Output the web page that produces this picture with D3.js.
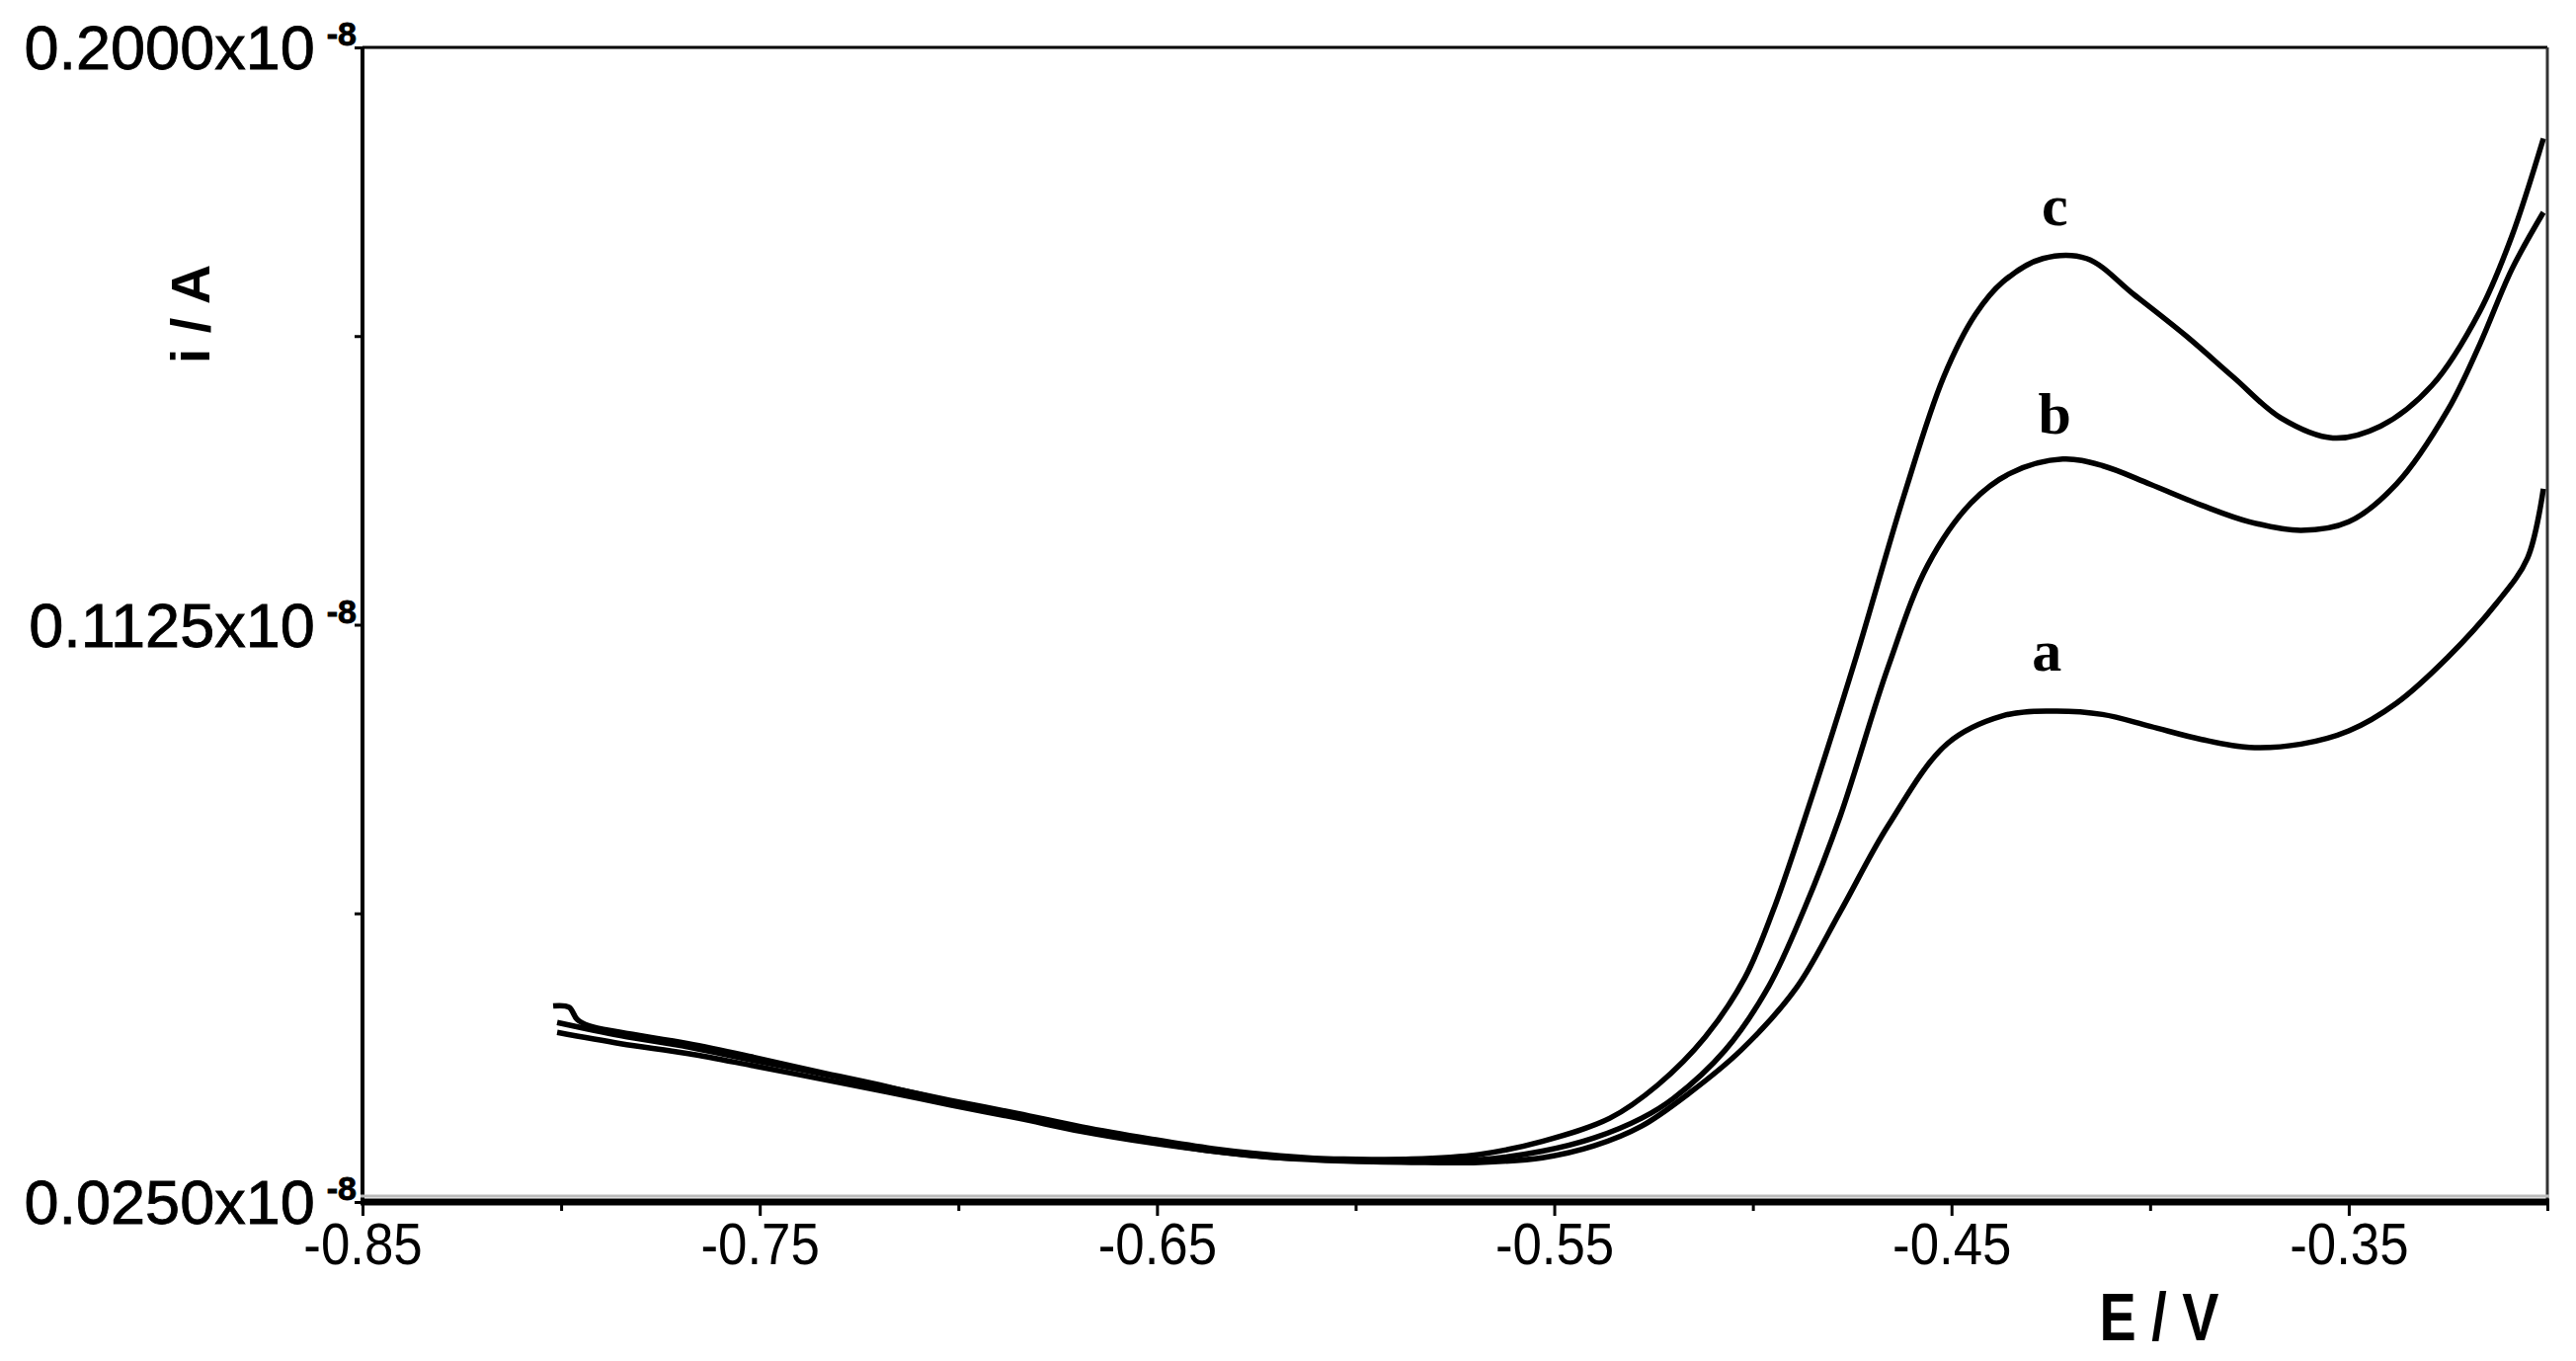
<!DOCTYPE html>
<html>
<head>
<meta charset="utf-8">
<script src="https://cdnjs.cloudflare.com/ajax/libs/d3/7.8.5/d3.min.js"></script>
<style>
  body { margin: 0; background: #fff; }
  svg { display: block; }
</style>
</head>
<body>
<script>
// potential (V) and current (x10^-8 A)
const curveNames = ['a', 'b', 'c']

const potA = [-0.801, -0.785, -0.768, -0.752, -0.735, -0.718, -0.702, -0.685, -0.669, -0.652, -0.636, -0.619, -0.603, -0.586, -0.569, -0.553, -0.540, -0.528, -0.516, -0.503, -0.489, -0.478, -0.466, -0.451, -0.437, -0.425, -0.412, -0.400, -0.387, -0.375, -0.362, -0.350, -0.338, -0.325, -0.313, -0.305, -0.301]
const curA = [0.0507, 0.0490, 0.0475, 0.0457, 0.0437, 0.0417, 0.0397, 0.0377, 0.0357, 0.0340, 0.0327, 0.0317, 0.0312, 0.0310, 0.0310, 0.0317, 0.0335, 0.0365, 0.0415, 0.0480, 0.0575, 0.0690, 0.0820, 0.0945, 0.0987, 0.0994, 0.0989, 0.0971, 0.0951, 0.0939, 0.0944, 0.0964, 0.1006, 0.1076, 0.1156, 0.1226, 0.1331]

const potB = [-0.801, -0.785, -0.768, -0.752, -0.735, -0.718, -0.702, -0.685, -0.669, -0.652, -0.636, -0.619, -0.603, -0.586, -0.569, -0.553, -0.540, -0.528, -0.520, -0.507, -0.496, -0.487, -0.478, -0.466, -0.456, -0.445, -0.435, -0.422, -0.412, -0.400, -0.387, -0.375, -0.362, -0.350, -0.338, -0.325, -0.317, -0.309, -0.301]
const curB = [0.0522, 0.0502, 0.0485, 0.0465, 0.0445, 0.0424, 0.0404, 0.0384, 0.0364, 0.0346, 0.0331, 0.0320, 0.0314, 0.0312, 0.0314, 0.0327, 0.0347, 0.0377, 0.0407, 0.0480, 0.0577, 0.0695, 0.0835, 0.1060, 0.1215, 0.1310, 0.1355, 0.1376, 0.1366, 0.1338, 0.1306, 0.1281, 0.1268, 0.1281, 0.1338, 0.1451, 0.1550, 0.1663, 0.1750]

const potC = [-0.802, -0.798, -0.796, -0.793, -0.785, -0.768, -0.752, -0.735, -0.718, -0.702, -0.685, -0.669, -0.652, -0.636, -0.619, -0.603, -0.586, -0.569, -0.553, -0.536, -0.524, -0.512, -0.502, -0.495, -0.487, -0.474, -0.462, -0.452, -0.444, -0.437, -0.427, -0.416, -0.404, -0.391, -0.379, -0.367, -0.354, -0.342, -0.329, -0.317, -0.309, -0.301]
const curC = [0.0547, 0.0545, 0.0527, 0.0517, 0.0507, 0.0490, 0.0470, 0.0447, 0.0425, 0.0402, 0.0380, 0.0360, 0.0342, 0.0327, 0.0317, 0.0315, 0.0315, 0.0322, 0.0342, 0.0377, 0.0427, 0.0500, 0.0590, 0.0690, 0.0830, 0.1076, 0.1320, 0.1500, 0.1595, 0.1645, 0.1680, 0.1680, 0.1625, 0.1563, 0.1500, 0.1438, 0.1408, 0.1426, 0.1488, 0.1600, 0.1713, 0.1862]

// where the a/b/c tags sit (E, i at baseline)
const labelPot = [-0.426, -0.424, -0.424]
const labelCur = [0.1055, 0.1415, 0.1730]

const xMajor = [-0.85, -0.75, -0.65, -0.55, -0.45, -0.35]
const xMinor = [-0.80, -0.70, -0.60, -0.50, -0.40, -0.30]
const yMajor = [0.0250, 0.1125, 0.2000]
const yMinor = [0.06875, 0.15625]

const fullWidth = 2608
const fullHeight = 1378
const margin = { top: 48, right: 29, bottom: 161, left: 367 }
const width = fullWidth - margin.left - margin.right
const height = fullHeight - margin.top - margin.bottom

const svg = d3.select('body')
  .append('svg')
  .attr('width', fullWidth)
  .attr('height', fullHeight)

const g = svg.append('g')
  .attr('transform', `translate(${margin.left},${margin.top})`)

let x_scale = d3.scaleLinear()
  .domain([-0.85, -0.30])
  .range([0, width])

let y_scale = d3.scaleLinear()
  .domain([0.025, 0.200])
  .range([height, 0])

// x axis: major + minor ticks, condensed labels with a plain hyphen
let x_axis = d3.axisBottom(x_scale)
  .tickValues(xMajor)
  .tickSize(14)
  .tickSizeOuter(0)
  .tickFormat(d => d.toFixed(2))

const xg = g.append('g')
  .attr('transform', `translate(0,${height})`)
  .call(x_axis)
xg.select('.domain').remove()
xg.selectAll('.tick line').attr('stroke', '#000').attr('stroke-width', 3)
xg.selectAll('.tick text')
  .attr('font-family', 'Liberation Sans, Arial, sans-serif')
  .attr('font-size', 60)
  .attr('fill', '#000')
  .attr('y', 20)
  .attr('transform', 'scale(0.88,1)')

let x_minor = d3.axisBottom(x_scale)
  .tickValues(xMinor)
  .tickSize(9)
  .tickSizeOuter(0)
  .tickFormat('')
const xmg = g.append('g')
  .attr('transform', `translate(0,${height})`)
  .call(x_minor)
xmg.select('.domain').remove()
xmg.selectAll('.tick line').attr('stroke', '#000').attr('stroke-width', 3)

// y axis: labels written as 0.xxxx x10^-8
let y_axis = d3.axisLeft(y_scale)
  .tickValues(yMajor.concat(yMinor))
  .tickSize(8)
  .tickSizeOuter(0)
  .tickFormat('')
const yg = g.append('g').call(y_axis)
yg.select('.domain').remove()
yg.selectAll('.tick line').attr('stroke', '#000').attr('stroke-width', 3)

const yLabels = g.append('g')
  .selectAll('text')
  .data(yMajor)
  .enter().append('text')
  .attr('x', -6)
  .attr('y', d => y_scale(d) + 22)
  .attr('text-anchor', 'end')
  .attr('font-family', 'Liberation Sans, Arial, sans-serif')
  .attr('fill', '#000')
  .attr('stroke', '#000')
  .attr('stroke-width', 0.8)
yLabels.append('tspan')
  .attr('font-size', 63)
  .text(d => d3.format('.4f')(d) + 'x10')
yLabels.append('tspan')
  .attr('font-size', 34)
  .attr('font-weight', 'bold')
  .attr('dx', 12)
  .attr('dy', -24)
  .text('-8')

// frame
g.append('line')
  .attr('x1', 0).attr('x2', width).attr('y1', 0).attr('y2', 0)
  .attr('stroke', '#000').attr('stroke-width', 3)
g.append('line')
  .attr('x1', width).attr('x2', width).attr('y1', 0).attr('y2', height)
  .attr('stroke', '#333').attr('stroke-width', 3)
g.append('line')
  .attr('x1', 0).attr('x2', 0).attr('y1', 0).attr('y2', height)
  .attr('stroke', '#000').attr('stroke-width', 4)
g.append('line')
  .attr('x1', -2).attr('x2', width + 2).attr('y1', height - 6).attr('y2', height - 6)
  .attr('stroke', '#bbb').attr('stroke-width', 3)
g.append('line')
  .attr('x1', -2).attr('x2', width + 2).attr('y1', height).attr('y2', height)
  .attr('stroke', '#000').attr('stroke-width', 7)

// curves
const series = [
  { name: 'a', pot: potA, cur: curA },
  { name: 'b', pot: potB, cur: curB },
  { name: 'c', pot: potC, cur: curC }
]

const linePath = d3.line()
  .x(d => x_scale(d[0]))
  .y(d => y_scale(d[1]))
  .curve(d3.curveCatmullRom.alpha(0.5))

g.selectAll('.curve')
  .data(series)
  .enter().append('path')
  .attr('class', 'curve')
  .attr('fill', 'none')
  .attr('stroke', '#000')
  .attr('stroke-width', 5.5)
  .attr('stroke-linejoin', 'round')
  .attr('d', d => linePath(d.pot.map((p, i) => [p, d.cur[i]])))

g.selectAll('.curve-label')
  .data(curveNames)
  .enter().append('text')
  .attr('class', 'curve-label')
  .attr('x', (d, i) => x_scale(labelPot[i]))
  .attr('y', (d, i) => y_scale(labelCur[i]))
  .attr('text-anchor', 'middle')
  .attr('font-family', 'Liberation Serif, Times New Roman, serif')
  .attr('font-weight', 'bold')
  .attr('font-size', 60)
  .attr('fill', '#000')
  .text(d => d)

// axis titles
svg.append('text')
  .attr('x', 2186)
  .attr('y', 1357)
  .attr('text-anchor', 'middle')
  .attr('font-family', 'Liberation Sans, Arial, sans-serif')
  .attr('font-weight', 'bold')
  .attr('font-size', 68)
  .attr('transform', 'translate(2186,0) scale(0.82,1) translate(-2186,0)')
  .attr('fill', '#000')
  .text('E / V')

svg.append('text')
  .attr('transform', 'translate(212,318) rotate(-90)')
  .attr('text-anchor', 'middle')
  .attr('font-family', 'Liberation Sans, Arial, sans-serif')
  .attr('font-weight', 'bold')
  .attr('font-size', 56)
  .attr('fill', '#000')
  .text('i / A')
</script>
</body>
</html>
